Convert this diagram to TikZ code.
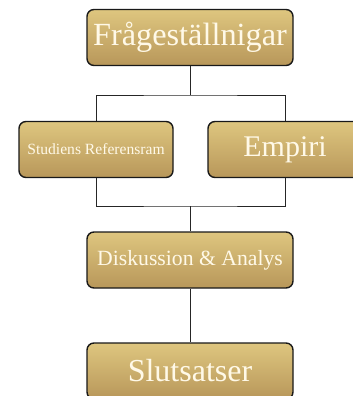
\documentclass[tikz,border=0pt]{standalone}
\usepackage{fontspec}
\setmainfont{Liberation Serif}
\definecolor{goldtop}{HTML}{DEC67F}
\definecolor{goldbot}{HTML}{B8975A}
\definecolor{cream}{HTML}{FFF9E8}
\tikzset{
  goldbox/.style={draw=black!90, line width=1.4pt, rounded corners=7pt,
    top color=goldtop, bottom color=goldbot, text=cream,
    minimum height=56pt, inner sep=0pt},
  link/.style={draw=black!85, line width=0.8pt}
}
\begin{document}
\begin{tikzpicture}[x=1pt,y=-1pt]
  \useasboundingbox (0,0) rectangle (353,396);
  \node[goldbox, minimum width=206pt, font=\fontsize{32.3}{32}\selectfont] (fragor) at (190,37.5) {Frågeställnigar};
  \node[goldbox, minimum width=154pt, font=\fontsize{15.6}{15}\selectfont] (refram) at (96,149.5) {Studiens Referensram};
  \node[goldbox, minimum width=154pt, font=\fontsize{30}{30}\selectfont] (empiri) at (285,149.5) {Empiri};
  \node[goldbox, minimum width=206pt, font=\fontsize{21.7}{21}\selectfont] (disk) at (190,260) {Diskussion \& Analys};
  \node[goldbox, minimum width=206pt, font=\fontsize{32}{32}\selectfont] (slut) at (190,371) {Slutsatser};
  \coordinate (forkup) at (190,95);
  \coordinate (forkdown) at (190,206);
  \begin{scope}[link]
    \draw (fragor) -- (forkup);
    \draw (refram.north) |- (forkup) -| (empiri.north);
    \draw (refram.south) |- (forkdown) -| (empiri.south);
    \draw (forkdown) -- (disk);
    \draw (disk) -- (slut);
  \end{scope}
\end{tikzpicture}
\end{document}
